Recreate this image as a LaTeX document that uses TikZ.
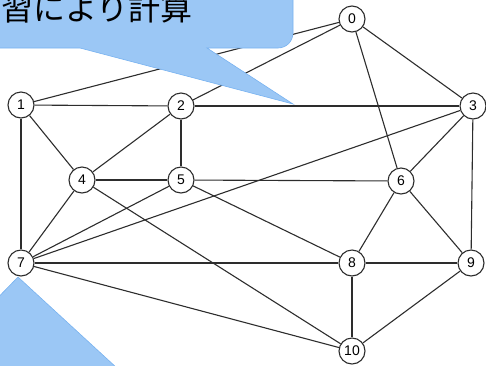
\documentclass[tikz,border=0pt]{standalone}
\usepackage{fontspec}
\setmainfont{Liberation Sans}
\newfontfamily\cjk{Noto Sans CJK JP}
\usetikzlibrary{backgrounds}
\definecolor{calloutblue}{RGB}{155,199,245}
\definecolor{calloutedge}{RGB}{120,178,240}
\definecolor{edgegray}{RGB}{45,45,45}
\begin{document}
\begin{tikzpicture}[x=1pt,y=-1pt,
  vtx/.style={circle,draw=edgegray,fill=white,line width=1.1pt,minimum size=26pt,inner sep=0pt,font=\fontsize{14}{14}\selectfont},
  edge/.style={draw=edgegray,line width=1.1pt},
  callout/.style={fill=calloutblue,draw=calloutedge,line width=0.6pt,line join=miter},
  calloutText/.style={font=\cjk\fontsize{32}{32}\selectfont,text=black,inner sep=0pt}]
\useasboundingbox (0,0) rectangle (486,365);
\clip (0,0) rectangle (486,365);
\node[vtx] (n0) at (352,19) {0};
\node[vtx] (n1) at (21,105) {1};
\node[vtx] (n2) at (181,106) {2};
\node[vtx] (n3) at (473,106) {3};
\node[vtx] (n4) at (82,180) {4};
\node[vtx] (n5) at (181,180) {5};
\node[vtx] (n6) at (401,181) {6};
\node[vtx] (n7) at (21,263) {7};
\node[vtx] (n8) at (352,263) {8};
\node[vtx] (n9) at (471,263) {9};
\node[vtx] (n10) at (352,351) {10};
\begin{pgfonlayer}{background}
\foreach \a/\b in {n0/n1,n0/n2,n0/n3,n0/n6,n1/n2,n1/n4,n1/n7,n2/n3,n2/n4,n2/n5,
  n3/n6,n3/n7,n3/n9,n4/n5,n4/n7,n4/n10,n5/n6,n5/n7,n5/n8,n6/n8,n6/n9,
  n7/n8,n7/n10,n8/n9,n8/n10,n9/n10}
  \draw[edge] (\a) -- (\b);
\end{pgfonlayer}
% top callout
\coordinate (tipA) at (293,104);
\coordinate (tipB) at (18,277);
\filldraw[callout] (-60,-60) -- (293,-60) [rounded corners=15pt] -- (293,48) [sharp corners] -- (207,48) -- (tipA) -- (80,48) -- (-60,48) -- cycle;
\node[calloutText,anchor=base] (txt) at (81,20) {学習により計算};
% bottom callout
\filldraw[callout] (tipB) -- (130,380) -- (-20,380) -- (-20,316) -- cycle;
\end{tikzpicture}
\end{document}
